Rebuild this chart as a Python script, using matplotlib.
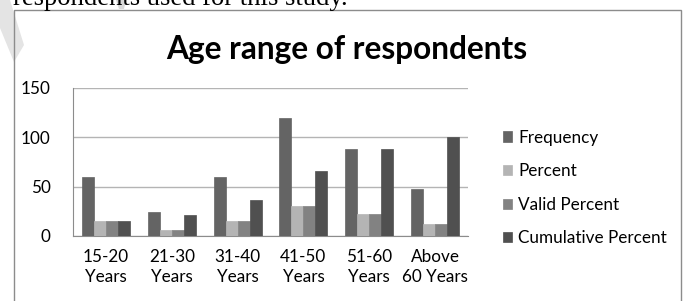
import matplotlib
matplotlib.use("Agg")
import matplotlib.pyplot as plt
from matplotlib.patches import Rectangle, Polygon
import numpy as np

categories = ["15-20\nYears", "21-30\nYears", "31-40\nYears", "41-50\nYears", "51-60\nYears", "Above\n60 Years"]
frequency = [60, 24, 60, 120, 88, 48]
percent = [15, 6, 15, 30, 22, 12]
valid_percent = [15, 6, 15, 30, 22, 12]
cumulative_percent = [15, 21, 36, 66, 88, 100]
series_names = ["Frequency", "Percent", "Valid Percent", "Cumulative Percent"]
yticks = [0, 50, 100, 150]

colors = ["#646464", "#b4b4b4", "#828282", "#505050"]
FONT = "Lato"
FS = 12.3

W, H = 686, 301
fig = plt.figure(figsize=(W / 100, H / 100), dpi=100)
fig.patch.set_facecolor("white")


def fp(px, py):
    return (px / W, 1 - py / H)


# faint watermark shapes
fig.patches.append(Polygon([fp(0, 0), fp(10, 0), fp(24, 45), fp(14, 62), fp(0, 28)],
                           closed=True, transform=fig.transFigure, facecolor="#e4e4e4", edgecolor="none", zorder=0))
fig.patches.append(Polygon([fp(116, 0), fp(126, 0), fp(124, 9), fp(119, 9)],
                           closed=True, transform=fig.transFigure, facecolor="#d8d8d8", edgecolor="none", zorder=0))

# text above chart (cut off by the image edge)
fig.text(*fp(13, 5), "respondents used for this study.", family="Liberation Serif",
         fontsize=19.2, color="black", ha="left", va="baseline")

# chart border
fig.patches.append(Rectangle((14.5 / W, -0.1), (681 - 14.5) / W, 1 - 9.5 / H + 0.1,
                             transform=fig.transFigure, fill=False, edgecolor="#8c8c8c", linewidth=1.0, zorder=1))

ax = fig.add_axes([73 / W, 1 - 236 / H, (468 - 73) / W, (236 - 88) / H])
ax.set_facecolor("none")

x = np.arange(len(categories))
bw = 0.182
all_series = [frequency, percent, valid_percent, cumulative_percent]
handles = []
for i, (vals, c, name) in enumerate(zip(all_series, colors, series_names)):
    b = ax.bar(x + (i - 1.5) * bw, vals, width=bw, color=c, edgecolor=c, linewidth=0.5, zorder=3, label=name)
    handles.append(b)

ax.set_xlim(-0.5, len(categories) - 0.5)
ax.set_ylim(0, 150)
ax.set_yticks(yticks)
ax.set_yticklabels([str(t) for t in yticks], family=FONT, fontsize=FS)
ax.set_xticks(x)
ax.set_xticklabels(categories, family=FONT, fontsize=FS, linespacing=1.35)
ax.tick_params(axis="both", length=0)
ax.tick_params(axis="y", pad=16)
ax.tick_params(axis="x", pad=9)
ax.yaxis.grid(True, color="#b4b4b4", linewidth=1.0, zorder=0)
ax.set_axisbelow(True)
for s in ["top", "right"]:
    ax.spines[s].set_visible(False)
ax.spines["left"].set_color("#8c8c8c")
ax.spines["bottom"].set_color("#8c8c8c")

fig.text(*fp(347, 59), "Age range of respondents", family=FONT, fontweight="bold",
         fontsize=22.8, ha="center", va="baseline")

leg = fig.legend(handles=handles, labels=series_names, loc="upper left",
                 bbox_to_anchor=fp(494, 121), frameon=False,
                 prop={"family": FONT, "size": FS}, handlelength=0.55, handleheight=0.55,
                 handletextpad=0.35, labelspacing=1.03, borderpad=0)

fig.savefig("out.png", dpi=100)
